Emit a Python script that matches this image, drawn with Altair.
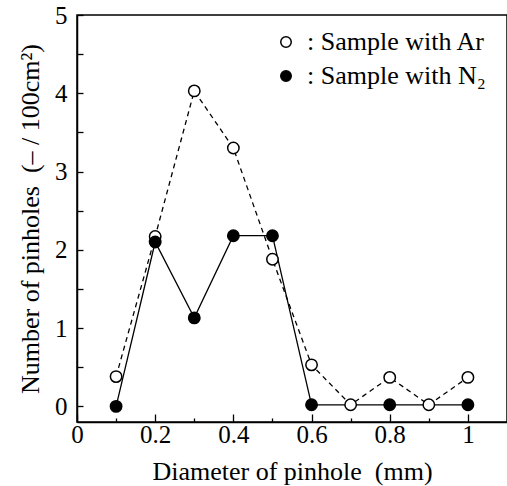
import altair as alt
import pandas as pd

FONT = "Liberation Serif"

series_names = [": Sample with Ar", ": Sample with N\u2082"]

diam_ar = [0.1, 0.2, 0.3, 0.4, 0.5, 0.6, 0.7, 0.8, 0.9, 1.0]
vals_ar = [0.38, 2.17, 4.03, 3.30, 1.88, 0.53, 0.02, 0.37, 0.02, 0.37]

diam_n2 = [0.1, 0.2, 0.3, 0.4, 0.5, 0.6, 0.8, 1.0]
vals_n2 = [0.0, 2.10, 1.13, 2.18, 2.18, 0.02, 0.02, 0.02]

x_tick_values = [0.0, 0.1, 0.2, 0.3, 0.4, 0.5, 0.6, 0.7, 0.8, 0.9, 1.0]
y_tick_values = [0, 0.5, 1, 1.5, 2, 2.5, 3, 3.5, 4, 4.5, 5]

df = pd.concat([
    pd.DataFrame({"d": diam_ar, "n": vals_ar, "series": series_names[0]}),
    pd.DataFrame({"d": diam_n2, "n": vals_n2, "series": series_names[1]}),
], ignore_index=True)

x_enc = alt.X(
    "d:Q",
    scale=alt.Scale(domain=[0, 1.1], nice=False, zero=False),
    axis=alt.Axis(
        title="Diameter of pinhole\u00a0 (mm)",
        values=x_tick_values,
        labelExpr="round(datum.value*10) % 2 == 0 ? (datum.value == 0 ? '0' : datum.value == 1 ? '1' : format(datum.value, '.1f')) : ''",
        tickSize={"condition": {"test": "round(datum.value*10) % 2 == 0", "value": -8}, "value": -4},
        labelPadding=8,
        labelFlush=False,
        titlePadding=11,
    ),
)
y_enc = alt.Y(
    "n:Q",
    scale=alt.Scale(domain=[-0.2, 5], nice=False, zero=False),
    axis=alt.Axis(
        title="Number of pinholes\u00a0 (\u2013 / 100cm\u00b2)",
        values=y_tick_values,
        labelExpr="datum.value % 1 == 0 ? format(datum.value, 'd') : ''",
        tickSize={"condition": {"test": "true", "value": -6}, "value": -6},
        labelPadding=16,
        labelFlush=False,
        titlePadding=11,
    ),
)

base = alt.Chart(df)

line_ar = base.transform_filter(alt.datum.series == series_names[0]).mark_line(
    color="black", strokeWidth=1.3, strokeDash=[5, 4]
).encode(x=x_enc, y=y_enc)

line_n2 = base.transform_filter(alt.datum.series == series_names[1]).mark_line(
    color="black", strokeWidth=1.3
).encode(x=x_enc, y=y_enc)

points = base.mark_point(
    shape="circle", size=130, stroke="black", strokeWidth=1.5, opacity=1
).encode(
    x=x_enc,
    y=y_enc,
    fill=alt.Fill(
        "series:N",
        scale=alt.Scale(domain=series_names, range=["white", "black"]),
        legend=alt.Legend(
            title=None,
            orient="none",
            legendX=196,
            legendY=14,
            padding=0,
            symbolType="circle",
            symbolSize=110,
            symbolStrokeColor="black",
            symbolStrokeWidth=1.5,
            labelFont=FONT,
            labelFontSize=26,
            labelColor="black",
            labelOffset=8,
            labelLimit=400,
            rowPadding=8,
        ),
    ),
)

chart = (
    alt.layer(line_ar, line_n2, points)
    .properties(
        width=430,
        height=407,
        autosize=alt.AutoSizeParams(type="none"),
        padding={"left": 77, "top": 15, "right": 0, "bottom": 64},
    )
    .configure_view(stroke="black", strokeWidth=1.5)
    .configure_axis(
        grid=False,
        domainColor="black",
        domainWidth=1.5,
        tickColor="black",
        tickWidth=1.3,
        labelFont=FONT,
        labelFontSize=25,
        labelColor="black",
        titleFont=FONT,
        titleFontSize=26,
        titleFontWeight="normal",
        titleColor="black",
    )
)

chart.save("out.html", embed_options={"renderer": "svg", "actions": False})
